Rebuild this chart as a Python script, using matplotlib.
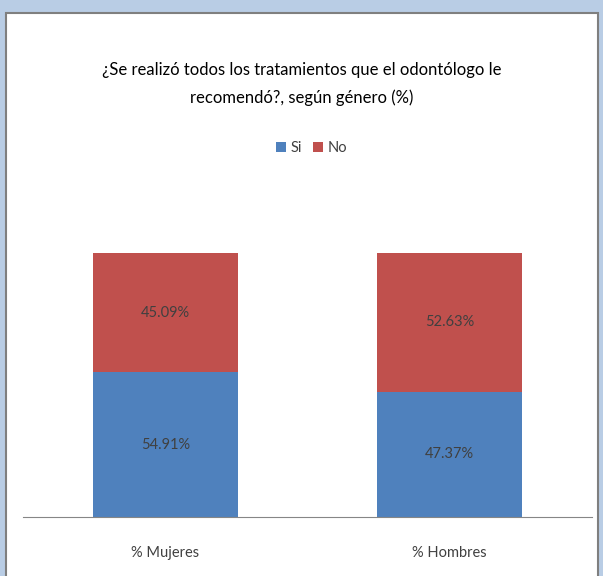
import numpy as np
import matplotlib.pyplot as plt
from matplotlib.patches import Rectangle

# categories and stacked percentages
grupos = ['% Mujeres', '% Hombres']
si = [54.91, 47.37]
no = [45.09, 52.63]

azul = '#4f81bd'
rojo = '#c0504d'
fuente = ['Lato', 'DejaVu Sans']

fig = plt.figure(figsize=(6.03, 5.76), dpi=100)
fig.patch.set_facecolor('#b9cde5')

# white chart panel with a grey frame
W, H = 603, 576
panel = Rectangle((6 / W, -0.01), 592 / W, (576 - 13) / H + 0.01,
                  transform=fig.transFigure, facecolor='white',
                  edgecolor='#7f7f7f', linewidth=1.5, zorder=-5)
fig.patches.append(panel)

ax = fig.add_axes([23 / W, (576 - 517) / H, 569 / W, 264 / H])
ax.set_facecolor('none')

x = np.arange(len(grupos))
b1 = ax.bar(x, si, width=0.51, color=azul, label='Si', zorder=2)
b2 = ax.bar(x, no, width=0.51, bottom=si, color=rojo, label='No', zorder=2)

for xi, s, n in zip(x, si, no):
    ax.text(xi, s / 2, f'{s:.2f}%', ha='center', va='center',
            fontsize=10.5, color='#404040', family=fuente)
    ax.text(xi, s + n / 2, f'{n:.2f}%', ha='center', va='center',
            fontsize=10.5, color='#404040', family=fuente)

ax.set_xlim(-0.5, 1.5)
ax.set_ylim(0, 100)
ax.set_yticks([])
ax.set_xticks(x)
ax.set_xticklabels(grupos, fontsize=10.5, color='#404040', family=fuente)
ax.tick_params(axis='x', length=0, pad=21)
for lado in ['top', 'right', 'left']:
    ax.spines[lado].set_visible(False)
ax.spines['bottom'].set_color('#868686')

fig.text(0.5, 1 - 70 / H, '¿Se realizó todos los tratamientos que el odontólogo le',
         ha='center', va='center', fontsize=12, family=fuente)
fig.text(0.5, 1 - 98 / H, 'recomendó?, según género (%)',
         ha='center', va='center', fontsize=12, family=fuente)

fig.legend(handles=[b1, b2], labels=['Si', 'No'], loc='center',
           bbox_to_anchor=(0.5 + 10 / W, 1 - 148 / H), ncol=2, frameon=False,
           handlelength=0.7, handleheight=0.7, handletextpad=0.3,
           columnspacing=0.8, prop={'family': fuente, 'size': 10.5},
           labelcolor='#404040')

fig.savefig('out.png', dpi=100)
